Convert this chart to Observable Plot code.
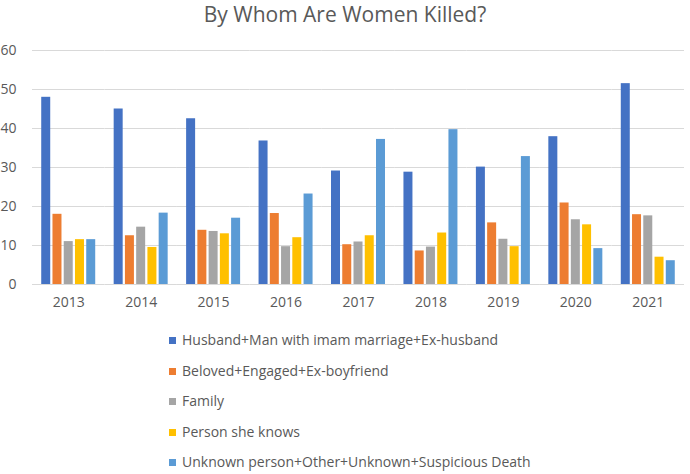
<!DOCTYPE html>
<html>
<head>
<meta charset="utf-8">
<script src="https://cdn.jsdelivr.net/npm/d3@7"></script>
<script src="https://cdn.jsdelivr.net/npm/@observablehq/plot@0.6"></script>
<style>
  html, body { margin: 0; padding: 0; background: #fff; }
  body { width: 690px; height: 474px; position: relative; overflow: hidden; font-family: "Open Sans", sans-serif; color: #595959; }
  #title { position: absolute; left: 0; top: 0px; width: 690px; text-align: center; font-size: 21px; line-height: 29px; }
  #chart { position: absolute; left: 0; top: 30px; }
  #legend { position: absolute; left: 169px; top: 325px; }
  .item { height: 30.6px; line-height: 30.6px; font-size: 14px; white-space: nowrap; }
  .sw { display: inline-block; width: 7px; height: 7px; margin-right: 6px; vertical-align: 1px; }
</style>
</head>
<body>
<div id="title">By Whom Are Women Killed?</div>
<div id="chart"></div>
<div id="legend"></div>
<script>
const years = ["2013", "2014", "2015", "2016", "2017", "2018", "2019", "2020", "2021"];
const seriesNames = [
  "Husband+Man with imam marriage+Ex-husband",
  "Beloved+Engaged+Ex-boyfriend",
  "Family",
  "Person she knows",
  "Unknown person+Other+Unknown+Suspicious Death"
];
const colors = ["#4472C4", "#ED7D31", "#A5A5A5", "#FFC000", "#5B9BD5"];
const husband = [48.0, 45.0, 42.5, 36.8, 29.1, 28.8, 30.1, 37.9, 51.5];
const beloved = [18.0, 12.5, 13.9, 18.2, 10.2, 8.6, 15.8, 20.9, 17.9];
const family  = [11.0, 14.7, 13.6, 9.7, 10.9, 9.6, 11.6, 16.6, 17.6];
const knows   = [11.5, 9.5, 13.0, 12.0, 12.5, 13.2, 9.7, 15.3, 7.0];
const unknown = [11.5, 18.3, 17.0, 23.2, 37.2, 39.7, 32.8, 9.2, 6.1];
const yTicks = [0, 10, 20, 30, 40, 50, 60];

const seriesValues = [husband, beloved, family, knows, unknown];
const data = [];
years.forEach((yr, i) => {
  seriesNames.forEach((s, j) => {
    data.push({year: yr, series: s, value: seriesValues[j][i]});
  });
});

const chart = Plot.plot({
  width: 690,
  height: 280,
  marginTop: 20,
  marginBottom: 26,
  marginLeft: 32,
  marginRight: 6,
  style: {fontFamily: "Open Sans, sans-serif", color: "#595959", background: "transparent"},
  fx: {domain: years, padding: 0, round: false, label: null},
  x: {domain: seriesNames, paddingInner: 0.2, paddingOuter: 0.82, round: false, axis: null},
  y: {domain: [0, 60], label: null},
  color: {domain: seriesNames, range: colors},
  marks: [
    Plot.gridY(yTicks, {stroke: "#d9d9d9", strokeOpacity: 1, strokeWidth: 1}),
    Plot.axisY(yTicks, {tickSize: 0, tickPadding: 16, fontSize: 14, label: null}),
    Plot.axisFx({anchor: "bottom", tickSize: 0, tickPadding: 13, fontSize: 14, label: null}),
    Plot.barY(data, {fx: "year", x: "series", y: "value", fill: "series"})
  ]
});
document.getElementById("chart").appendChild(chart);

const legend = document.getElementById("legend");
seriesNames.forEach((s, j) => {
  const row = document.createElement("div");
  row.className = "item";
  const sw = document.createElement("span");
  sw.className = "sw";
  sw.style.background = colors[j];
  row.appendChild(sw);
  row.appendChild(document.createTextNode(s));
  legend.appendChild(row);
});
</script>
</body>
</html>
